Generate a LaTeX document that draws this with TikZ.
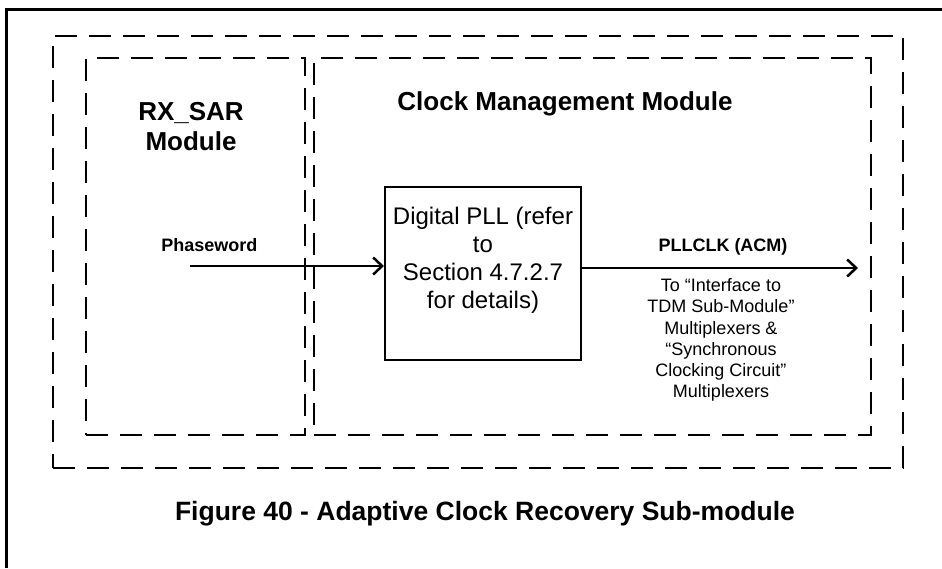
\documentclass[tikz,border=0pt]{standalone}
\usepackage{fontspec}
\setmainfont{Liberation Sans}
\usetikzlibrary{arrows.meta, positioning}

\begin{document}
\begin{tikzpicture}[
  x=1pt, y=-1pt,
  modbox/.style={rectangle, draw=black, line width=2pt, dash pattern=on 22pt off 12pt, inner sep=0pt},
  pllbox/.style={rectangle, draw=black, line width=2pt, minimum width=196pt, minimum height=173pt, inner sep=0pt},
  title/.style={font=\fontsize{26}{30}\selectfont\bfseries, align=center},
  sig/.style={font=\fontsize{18}{21}\selectfont\bfseries},
  arrow/.style={line width=2.5pt, -{Straight Barb[length=9pt, width=17pt, line width=2.5pt]}}
]
\useasboundingbox (0,0) rectangle (942,568);

% Frame
\draw [line width=3pt] (6,568) |- (942,9);

% Modules
\node (acr) [modbox, minimum width=850pt, minimum height=432pt] at (478,252) {};
\node (rxsar) [modbox, minimum width=219pt, minimum height=377pt] at (195.5,246.5) {};
\node (cmm) [modbox, minimum width=557pt, minimum height=377pt] at (592.5,246.5) {};
\node (rxlabel) [title] at (191,127) {RX\_SAR\\Module};
\node (cmmlabel) [title] at (565,104) {Clock Management Module};

% Digital PLL
\node (pll) [pllbox] at (483,273.5) {};
\node (plltext) [font=\fontsize{24}{28}\selectfont, align=center] at (483,260) {Digital PLL (refer\\to\\Section 4.7.2.7\\for details)};

% Signals
\coordinate (pwin) at (190,266);
\coordinate (clkout) at (858,268);
\draw [arrow] (pwin) -- (pwin -| pll.west) node[pos=0.1, above=10pt, sig] {Phaseword};
\draw [arrow] (clkout -| pll.east) -- (clkout) node (clklabel) [midway, above=8pt, sig, xshift=3pt] {PLLCLK (ACM)};
\node (dest) [font=\fontsize{18}{21.3}\selectfont, align=center] at (721,340) {To ``Interface to\\TDM Sub-Module''\\Multiplexers \&\\``Synchronous\\Clocking Circuit''\\Multiplexers};

% Caption
\node (caption) [font=\fontsize{26.5}{30}\selectfont\bfseries] at (485,514) {Figure 40 - Adaptive Clock Recovery Sub-module};
\end{tikzpicture}
\end{document}
